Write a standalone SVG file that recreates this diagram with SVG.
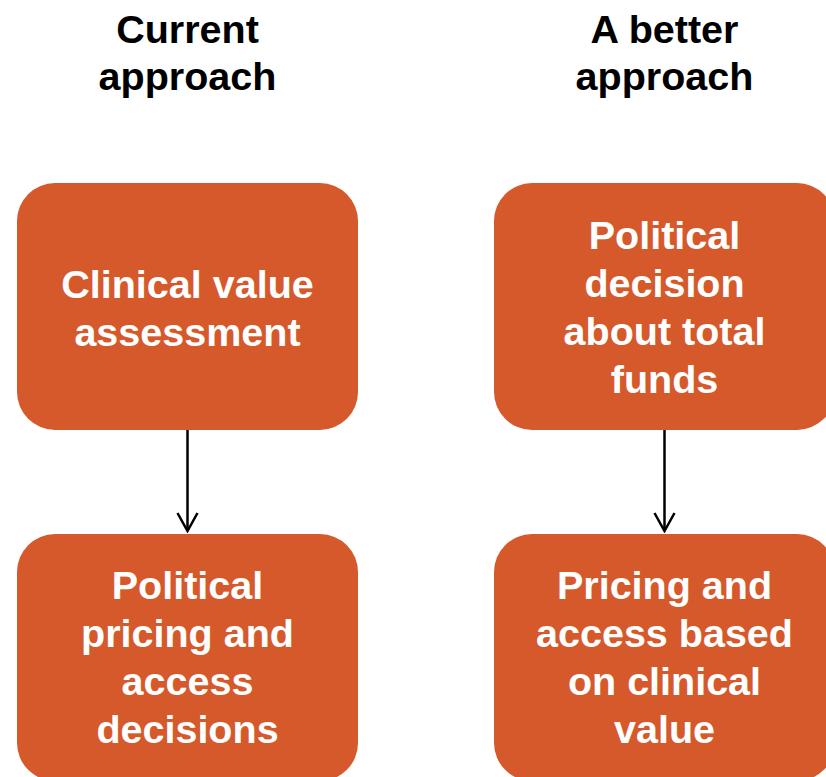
<svg xmlns="http://www.w3.org/2000/svg" width="826" height="777" viewBox="0 0 826 777">
<defs>
<style>
.box{fill:#D5592B;}
.t{font-family:"Liberation Sans",Arial,sans-serif;font-weight:bold;font-size:39.5px;text-anchor:middle;}
.w{fill:#FFFFFF;}
.k{fill:#000000;}
.c{stroke:#000;stroke-width:2.5;fill:none;}
</style>
<marker id="ah" markerWidth="22" markerHeight="24" refX="20" refY="11" orient="auto" markerUnits="userSpaceOnUse" viewBox="0 0 22 24">
<path d="M2,1 L20,11 L2,21" fill="none" stroke="#000" stroke-width="2.5"/>
</marker>
</defs>
<rect width="826" height="777" fill="#FFFFFF"/>
<g id="title-current">
<text class="t k" x="187.5" y="43">Current</text>
<text class="t k" x="187.5" y="90">approach</text>
</g>
<g id="title-better">
<text class="t k" x="664.5" y="43">A better</text>
<text class="t k" x="664.5" y="90">approach</text>
</g>
<g id="connectors">
<line class="c" x1="187.5" y1="430" x2="187.5" y2="531" marker-end="url(#ah)"/>
<line class="c" x1="664.5" y1="430" x2="664.5" y2="531" marker-end="url(#ah)"/>
</g>
<g id="clinical-value-assessment">
<rect class="box" x="17" y="183" width="341" height="247" rx="38"/>
<text class="t w" x="187.5" y="298">Clinical value</text>
<text class="t w" x="187.5" y="346">assessment</text>
</g>
<g id="political-decision">
<rect class="box" x="494" y="183" width="341" height="247" rx="38"/>
<text class="t w" x="664.5" y="249">Political</text>
<text class="t w" x="664.5" y="297">decision</text>
<text class="t w" x="664.5" y="345">about total</text>
<text class="t w" x="664.5" y="393">funds</text>
</g>
<g id="political-pricing">
<rect class="box" x="17" y="534" width="341" height="247" rx="38"/>
<text class="t w" x="187.5" y="599">Political</text>
<text class="t w" x="187.5" y="647">pricing and</text>
<text class="t w" x="187.5" y="695">access</text>
<text class="t w" x="187.5" y="743">decisions</text>
</g>
<g id="pricing-access">
<rect class="box" x="494" y="534" width="341" height="247" rx="38"/>
<text class="t w" x="664.5" y="599">Pricing and</text>
<text class="t w" x="664.5" y="647">access based</text>
<text class="t w" x="664.5" y="695">on clinical</text>
<text class="t w" x="664.5" y="743">value</text>
</g>
</svg>
